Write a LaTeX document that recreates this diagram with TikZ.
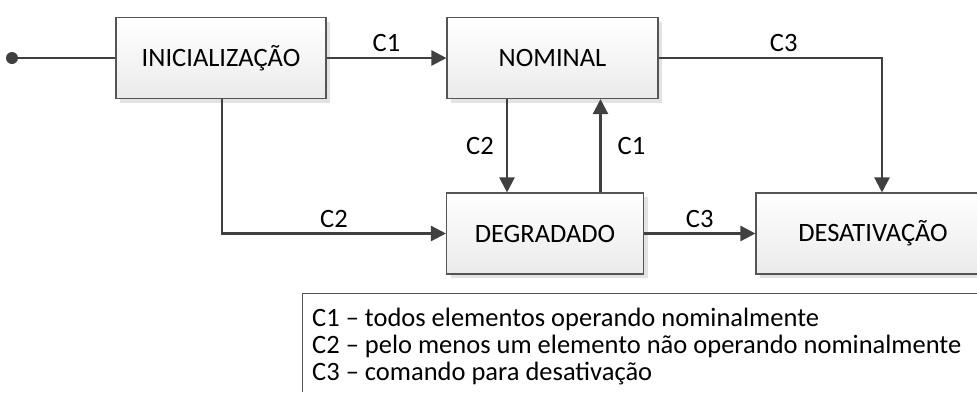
\documentclass[tikz,border=0pt]{standalone}
\usepackage{fontspec}
\setmainfont{Carlito}
\usetikzlibrary{arrows.meta,shadows}
\definecolor{linegray}{HTML}{404040}
\definecolor{boxgray}{HTML}{555555}
\tikzset{
  estado/.style={draw=boxgray, line width=1.1pt, top color=white, bottom color=black!8,
    minimum height=81pt, inner sep=0pt, font=\fontsize{26.5}{27}\selectfont,
    drop shadow={shadow xshift=4pt, shadow yshift=-4pt, fill=black!11, opacity=1}},
  trans/.style={draw=linegray, line width=2.4pt, -{Triangle[length=15pt,width=15pt]}},
  rotulo/.style={font=\fontsize{26.5}{27}\selectfont, inner sep=3pt},
}
\begin{document}
\begin{tikzpicture}[x=1pt,y=-1pt]
\useasboundingbox (0,0) rectangle (977,392);
\pgfmathsetmacro{\ya}{58}
\pgfmathsetmacro{\yb}{233.5}
\node[estado, minimum width=210pt] (ini) at (221,\ya) {INICIALIZAÇÃO};
\node[estado, minimum width=211pt] (nom) at (552.5,\ya) {NOMINAL};
\node[estado, minimum width=197pt] (deg) at (545,\yb) {DEGRADADO};
\node[estado, minimum width=234pt] (des) at (873,\yb) {DESATIVAÇÃO};
%
\coordinate (inicio) at (12,\ya);
\fill[linegray] (inicio) circle (6pt);
\draw[linegray, line width=2.4pt] (inicio) -- (ini.west);
%
\draw[trans] (ini.east) -- (nom.west) node[rotulo, midway, above=2pt]{C1};
\draw[trans] (nom.east) -| ([xshift=9pt]des.north) node[rotulo, pos=0.28, above=2pt]{C3};
\draw[trans] ([xshift=1pt]ini.south) |- (deg.west) node[rotulo, pos=0.75, above=2pt]{C2};
%
\draw[trans] ([xshift=-45.5pt]nom.south) -- ([xshift=-45.5pt]nom.south |- deg.north) node[rotulo, midway, left=9pt]{C2};
\draw[trans] ([xshift=48pt]nom.south |- deg.north) -- ([xshift=48pt]nom.south) node[rotulo, midway, right=13pt]{C1};
%
\draw[trans] (deg.east) -- (des.west) node[rotulo, midway, above=2pt]{C3};
%
\node[rotulo, anchor=north west, align=left, inner sep=0pt] (legenda) at (312,308) {C1 – todos elementos operando nominalmente\\C2 – pelo menos um elemento não operando nominalmente\\C3 – comando para desativação};
\draw[boxgray, line width=1.1pt] (302.5,392) |- (977,293.5);
\end{tikzpicture}
\end{document}
